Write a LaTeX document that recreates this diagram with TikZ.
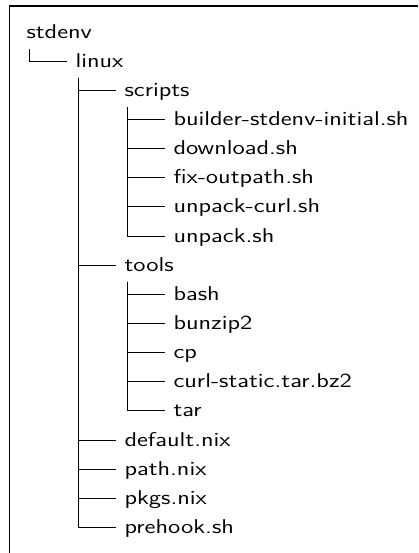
\documentclass[tikz,border=0pt]{standalone}
\usepackage{fontspec}
\usepackage{graphicx}
\newcommand{\entryfont}{\sffamily\fontsize{15}{18}\selectfont}
\newlength{\longestw}
% the longest name should span 235 units (176.25pt)
\AtBeginDocument{%
  \settowidth{\longestw}{\entryfont builder-stdenv-initial.sh}%
  \pgfmathsetmacro{\wfac}{176.25/\longestw}%
  \global\let\wfac\wfac}
% widen the sans text horizontally by the factor \wfac
\newcommand{\wide}[1]{\scalebox{\wfac}[1]{#1}}
\tikzset{
  entry/.style={font=\entryfont, inner sep=0pt, outer sep=0pt, anchor=base west},
  branch/.style={draw=black, line width=0.8pt},
  frame/.style={draw=black, line width=1pt}
}
\begin{document}
\begin{tikzpicture}[x=0.75pt, y=-0.75pt]
  \useasboundingbox (0,0) rectangle (418,553);
  % open frame: top and left edges only
  \draw[frame] (418,6) -- (9.3,6) -- (9.3,553);

  % directory entries
  \node[entry] (stdenv)   at (26.5,38.5)  {\wide{stdenv}};
  \node[entry] (linux)    at (75.5,67.15) {\wide{linux}};
  \node[entry] (scripts)  at (124.5,96.3) {\wide{scripts}};
  \node[entry] (builder)  at (173.5,125.45) {\wide{builder-stdenv-initial.sh}};
  \node[entry] (download) at (173.5,154.6)  {\wide{download.sh}};
  \node[entry] (fixout)   at (173.5,183.75) {\wide{fix-outpath.sh}};
  \node[entry] (unpcurl)  at (173.5,212.9)  {\wide{unpack-curl.sh}};
  \node[entry] (unpack)   at (173.5,242.05) {\wide{unpack.sh}};
  \node[entry] (tools)    at (124.5,271.2)  {\wide{tools}};
  \node[entry] (bash)     at (173.5,300.35) {\wide{bash}};
  \node[entry] (bunzip)   at (173.5,329.5)  {\wide{bunzip2}};
  \node[entry] (cp)       at (173.5,358.65) {\wide{cp}};
  \node[entry] (curl)     at (173.5,387.8)  {\wide{curl-static.tar.bz2}};
  \node[entry] (tar)      at (173.5,416.95) {\wide{tar}};
  \node[entry] (default)  at (124.5,446.1)  {\wide{default.nix}};
  \node[entry] (path)     at (124.5,475.25) {\wide{path.nix}};
  \node[entry] (pkgs)     at (124.5,504.4)  {\wide{pkgs.nix}};
  \node[entry] (prehook)  at (124.5,533.55) {\wide{prehook.sh}};

  % tree branches: down from the parent, then across to the child
  \foreach \p/\c in {stdenv/linux,
                     linux/scripts, linux/tools, linux/default, linux/path, linux/pkgs, linux/prehook,
                     scripts/builder, scripts/download, scripts/fixout, scripts/unpcurl, scripts/unpack,
                     tools/bash, tools/bunzip, tools/cp, tools/curl, tools/tar}
    \draw[branch] (\p.base west) ++(3,10.5) |- ([shift={(-9,-6)}]\c.base west);
\end{tikzpicture}
\end{document}
